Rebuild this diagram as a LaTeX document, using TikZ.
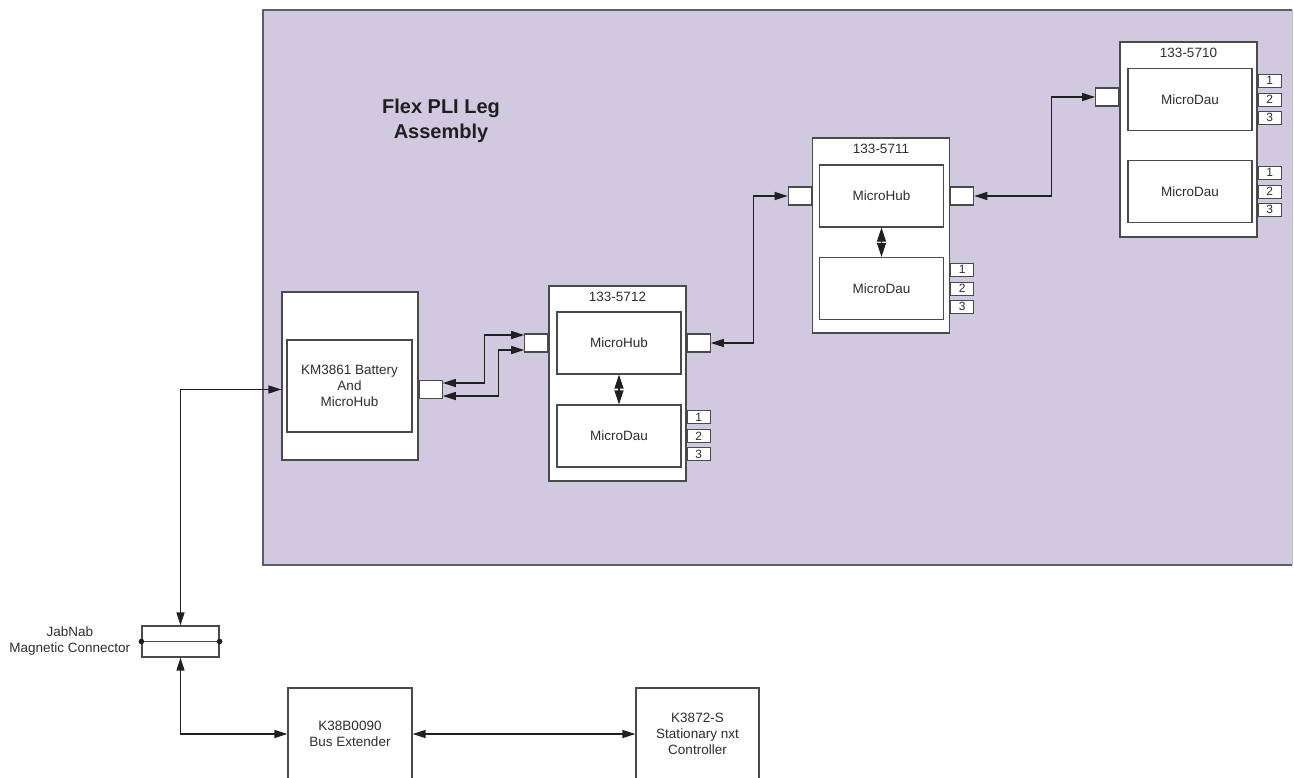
\documentclass[tikz,border=0pt]{standalone}
\usepackage{fontspec}
\setmainfont{Liberation Sans}
\usepackage{tikz}
\usetikzlibrary{arrows.meta,positioning,calc}

\definecolor{assyfill}{HTML}{D1C9DF}
\definecolor{assyedge}{HTML}{5E5C66}
\definecolor{boxedge}{HTML}{4A4A4A}
\definecolor{linkcol}{HTML}{202020}
\definecolor{textcol}{HTML}{2E2E2E}

\begin{document}
\begin{tikzpicture}[x=1pt, y=-1pt,
  every node/.style={font=\fontsize{13.5}{16}\selectfont, text=textcol},
  unit/.style={draw=boxedge, fill=white, line width=1.2pt, minimum width=137pt, minimum height=195pt, inner sep=0pt},
  card/.style={draw=boxedge, fill=white, line width=1.2pt, minimum width=124pt, minimum height=62pt, align=center, inner sep=0pt},
  port/.style={draw=boxedge, fill=white, line width=1.2pt, minimum width=23pt, minimum height=18pt, inner sep=0pt},
  numbox/.style={draw=boxedge, fill=white, line width=1pt, minimum width=23pt, minimum height=13pt, inner sep=0pt, font=\fontsize{12}{12}\selectfont},
  link/.style={draw=linkcol, line width=1.3pt, >={Triangle[length=13pt,width=8pt]}, <->},
  biarrow/.style={draw=linkcol, line width=1.3pt, >={Triangle[length=14pt,width=9pt]}, <->}]
  \useasboundingbox (0,0) rectangle (1294,777);
  \clip (0,0) rectangle (1294,777);

  % leg assembly area
  \fill[assyfill] (263,10) rectangle (1292,565);
  \draw[assyedge, line width=2.2pt] (1292,10) -- (263,10) -- (263,565) -- (1292,565);
  \draw[assyedge!40, line width=1pt] (1292,10) -- (1292,565);
  \node[font=\fontsize{20}{25}\selectfont\bfseries, align=center, text=black!88] (assytitle) at (441,121) {Flex PLI Leg\\Assembly};

  % battery + hub
  \node[unit, minimum width=136pt, minimum height=168pt] (km) at (350,376) {};
  \node[card, minimum width=125pt, minimum height=92pt] (kmhub) at (349.5,386) {KM3861 Battery\\And\\MicroHub};
  \node[port, anchor=west] (kmport) at ($(km.east |- kmhub.center)+(0,3.5)$) {};

  % 133-5712
  \node[unit] (a5712) at (617.5,383.5) {};
  \node (a5712t) at ([yshift=-11pt]a5712.north) {133-5712};
  \node[card] (a5712hub) at (619,343) {MicroHub};
  \node[card] (a5712dau) at (619,436) {MicroDau};
  \node[port, anchor=east] (a5712in) at (a5712.west |- a5712hub.center) {};
  \node[port, anchor=west] (a5712out) at (a5712.east |- a5712hub.center) {};

  % 133-5711
  \node[unit] (a5711) at (881,235.5) {};
  \node (a5711t) at ([yshift=-11pt]a5711.north) {133-5711};
  \node[card] (a5711hub) at (881.5,196) {MicroHub};
  \node[card] (a5711dau) at (881.5,288.5) {MicroDau};
  \node[port, anchor=east] (a5711in) at (a5711.west |- a5711hub.center) {};
  \node[port, anchor=west] (a5711out) at (a5711.east |- a5711hub.center) {};

  % 133-5710
  \node[unit] (a5710) at (1188.5,139.5) {};
  \node (a5710t) at ([yshift=-11pt]a5710.north) {133-5710};
  \node[card] (a5710daua) at (1190,99.5) {MicroDau};
  \node[card] (a5710daub) at (1190,191.5) {MicroDau};
  \node[port, anchor=east] (a5710in) at ($(a5710.west |- a5710daua.center)+(0,-2.5)$) {};

  % channel pins
  \foreach \u/\d in {a5712/a5712dau, a5711/a5711dau, a5710/a5710daua, a5710/a5710daub}
    \foreach \n/\dy in {1/-19,2/0,3/18}
      \node[numbox, anchor=west] (\d\n) at ($(\u.east |- \d.center)+(0,\dy)$) {\n};

  \draw[biarrow] (a5712hub) -- (a5712dau);
  \draw[biarrow] (a5711hub) -- (a5711dau);

  \draw[link] ([yshift=6.5pt]kmport.east) -- ++(42,0) |- ([yshift=8pt]a5712in.west);
  \draw[link] ([yshift=-6.5pt]kmport.east) -- ++(56,0) |- ([yshift=-7pt]a5712in.west);
  \draw[link] (a5712out.east) -- ++(43,0) |- (a5711in.west);
  \draw[link] (a5711out.east) -- ++(77,0) |- (a5710in.west);

  % connector and bench side
  \node[draw=boxedge, fill=white, line width=1.2pt, minimum width=77pt, minimum height=31pt, inner sep=0pt] (jab) at (180.5,641.5) {};
  \draw[boxedge, line width=1.3pt] (jab.west) -- (jab.east);
  \fill[linkcol] (jab.west) circle (2.8pt) (jab.east) circle (2.8pt);
  \node[align=center, anchor=east, inner sep=0pt] (jablabel) at ([xshift=-11pt]jab.west) {JabNab\\Magnetic Connector};

  \node[draw=boxedge, fill=white, line width=1.2pt, minimum width=124pt, minimum height=92pt, align=center] (bus) at (350,734) {K38B0090\\Bus Extender};
  \node[draw=boxedge, fill=white, line width=1.2pt, minimum width=123pt, minimum height=92pt, align=center] (ctrl) at (697.5,734) {K3872-S\\Stationary nxt\\Controller};

  \draw[link] (jab.north) |- (km.west |- kmport.center);
  \draw[link] (jab.south) |- (bus.west);
  \draw[link] (bus.east) -- (ctrl.west);
\end{tikzpicture}
\end{document}
